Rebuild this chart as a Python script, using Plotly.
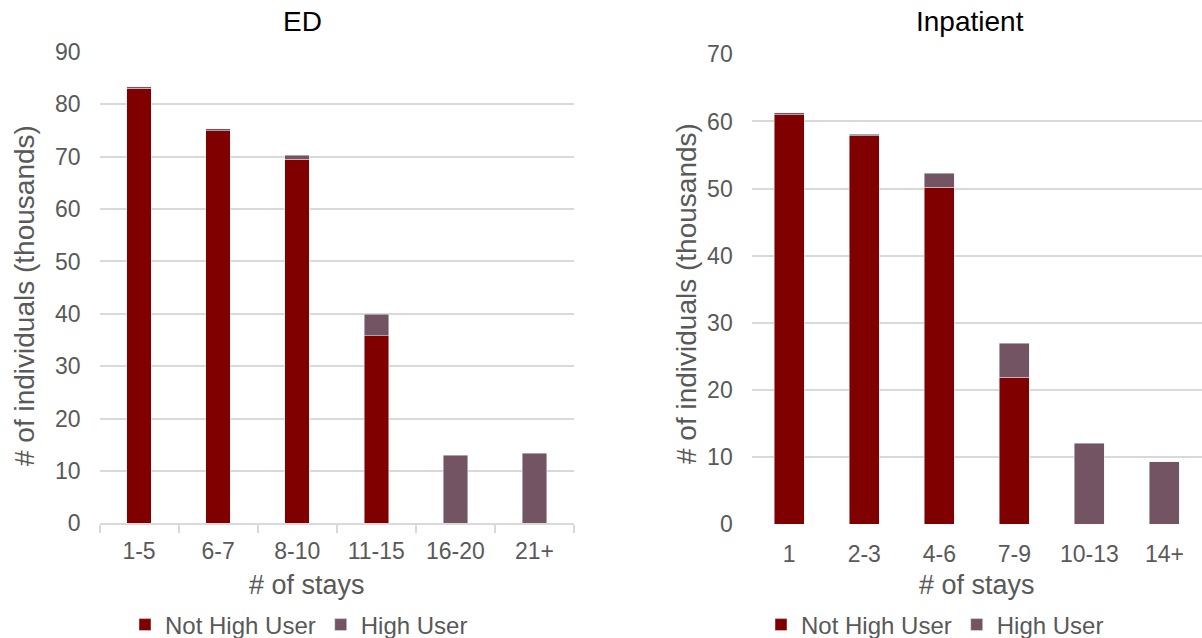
import plotly.graph_objects as go

# ED visits: number of individuals (thousands) by number of stays
ed_categories = ["1-5", "6-7", "8-10", "11-15", "16-20", "21+"]
ed_not_high = [83.1, 75.0, 69.5, 35.8, 0, 0]
ed_high = [0.3, 0.3, 0.8, 4.1, 13.0, 13.4]

# Inpatient stays: number of individuals (thousands) by number of stays
ip_categories = ["1", "2-3", "4-6", "7-9", "10-13", "14+"]
ip_not_high = [61.0, 57.9, 50.2, 21.9, 0, 0]
ip_high = [0.3, 0.2, 2.1, 5.1, 12.1, 9.3]

series_names = ["Not High User", "High User"]

W, H = 1202, 638
FONT = "Liberation Sans, Arial, sans-serif"
GRAY_TEXT = "#595959"
GRID = "#d9d9d9"
C_NOT_HIGH = "#800000"
C_HIGH = "#735462"


def px_x(x):
    return x / W


def px_y(y):
    return 1 - y / H


fig = go.Figure()

fig.add_trace(go.Bar(x=ed_categories, y=ed_not_high, name=series_names[0],
                     marker_color=C_NOT_HIGH, width=0.31,
                     xaxis="x", yaxis="y", legend="legend"))
fig.add_trace(go.Bar(x=ed_categories, y=ed_high, name=series_names[1],
                     marker_color=C_HIGH, width=0.31,
                     xaxis="x", yaxis="y", legend="legend"))
fig.add_trace(go.Bar(x=ip_categories, y=ip_not_high, name=series_names[0],
                     marker_color=C_NOT_HIGH, width=0.4,
                     xaxis="x2", yaxis="y2", legend="legend2"))
fig.add_trace(go.Bar(x=ip_categories, y=ip_high, name=series_names[1],
                     marker_color=C_HIGH, width=0.4,
                     xaxis="x2", yaxis="y2", legend="legend2"))

tick_font = dict(family=FONT, size=23, color=GRAY_TEXT)
legend_font = dict(family=FONT, size=24, color=GRAY_TEXT)

fig.update_layout(
    width=W, height=H,
    margin=dict(l=0, r=0, t=0, b=0, autoexpand=False),
    paper_bgcolor="white", plot_bgcolor="white",
    barmode="stack",
    font=dict(family=FONT, color=GRAY_TEXT),
    xaxis=dict(domain=[px_x(99.5), px_x(574)], anchor="y", type="category",
               range=[-0.5, 5.5], showgrid=False, showline=True,
               linecolor=GRID, linewidth=1.5, ticks="outside",
               tickson="boundaries", ticklen=8, tickcolor=GRID, tickwidth=1.5,
               tickfont=tick_font, ticklabelstandoff=6),
    yaxis=dict(domain=[px_y(523.3), px_y(52)], anchor="x", range=[0, 90],
               dtick=10, showgrid=True, gridcolor=GRID, gridwidth=1.5,
               zeroline=False, showline=False, tickfont=tick_font,
               ticklabelstandoff=18),
    xaxis2=dict(domain=[px_x(751.7), 1.0], anchor="y2", type="category",
                range=[-0.5, 5.5], showgrid=False, showline=False,
                ticks="", tickfont=tick_font, ticklabelstandoff=14),
    yaxis2=dict(domain=[px_y(524.3), px_y(54.3)], anchor="x2", range=[0, 70],
                dtick=10, showgrid=True, gridcolor=GRID, gridwidth=1.5,
                zeroline=False, showline=False, tickfont=tick_font,
                ticklabelstandoff=18),
    legend=dict(orientation="h", x=px_x(125), xanchor="left",
                y=px_y(625), yanchor="middle", font=legend_font,
                bgcolor="rgba(0,0,0,0)", traceorder="normal",
                itemwidth=30),
    legend2=dict(orientation="h", x=px_x(761), xanchor="left",
                 y=px_y(625), yanchor="middle", font=legend_font,
                 bgcolor="rgba(0,0,0,0)", traceorder="normal",
                 itemwidth=30),
    showlegend=True,
)

annotations = [
    dict(text="ED", x=px_x(302), y=px_y(22), font=dict(family=FONT, size=28, color="#000000")),
    dict(text="Inpatient", x=px_x(970), y=px_y(22), font=dict(family=FONT, size=28, color="#000000")),
    dict(text="# of stays", x=px_x(307), y=px_y(585), font=dict(family=FONT, size=27, color=GRAY_TEXT)),
    dict(text="# of stays", x=px_x(977), y=px_y(585), font=dict(family=FONT, size=27, color=GRAY_TEXT)),
    dict(text="# of individuals (thousands)", x=px_x(24), y=px_y(296), textangle=-90,
         font=dict(family=FONT, size=28, color=GRAY_TEXT)),
    dict(text="# of individuals (thousands)", x=px_x(686), y=px_y(294), textangle=-90,
         font=dict(family=FONT, size=28, color=GRAY_TEXT)),
]
for a in annotations:
    fig.add_annotation(xref="paper", yref="paper", showarrow=False,
                       xanchor="center", yanchor="middle", **a)

fig.write_html("out.html")
